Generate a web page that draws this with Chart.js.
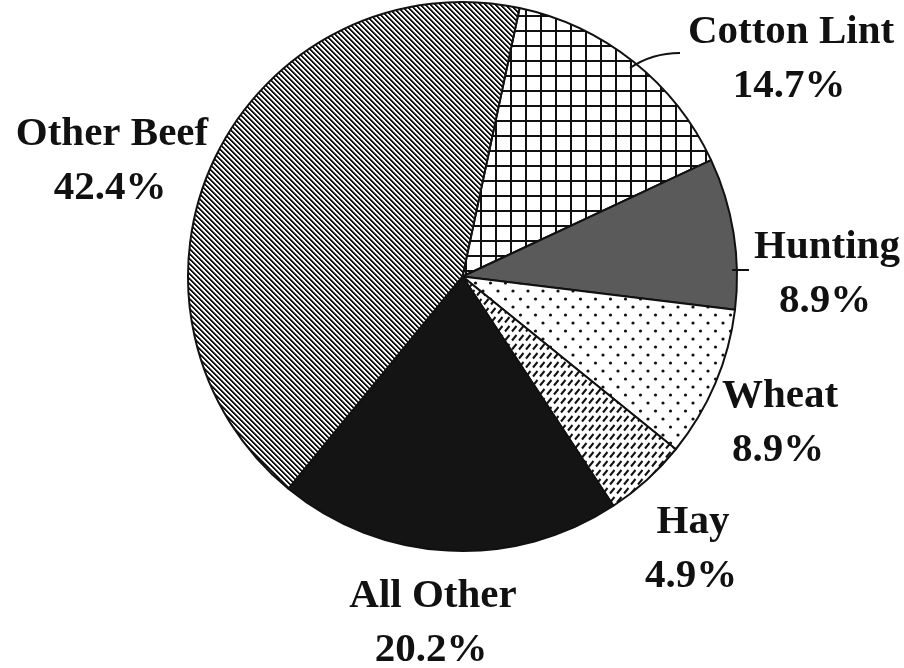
<!DOCTYPE html>
<html>
<head>
<meta charset="utf-8">
<script src="https://cdn.jsdelivr.net/npm/chart.js@4.4.1/dist/chart.umd.min.js"></script>
<style>
  html, body { margin: 0; padding: 0; background: #ffffff; }
  #wrap { width: 904px; height: 668px; }
</style>
</head>
<body>
<div id="wrap"><canvas id="pieChart" width="904" height="668"></canvas></div>
<script>
// Shares of total, clockwise from the top
const categories = ["Cotton Lint", "Hunting", "Wheat", "Hay", "All Other", "Other Beef"];
const shares = [14.7, 8.9, 8.9, 4.9, 20.2, 42.4];
const shareLabels = ["14.7%", "8.9%", "8.9%", "4.9%", "20.2%", "42.4%"];

// Where each two-line label sits (centre x, baseline of first line)
const labelSpots = [
  { x: 791, y: 43 },
  { x: 827, y: 258 },
  { x: 780, y: 407 },
  { x: 693, y: 533 },
  { x: 433, y: 607 },
  { x: 112, y: 145 }
];

function makeTile(w, h, draw) {
  const c = document.createElement("canvas");
  c.width = w;
  c.height = h;
  const g = c.getContext("2d");
  g.fillStyle = "#ffffff";
  g.fillRect(0, 0, w, h);
  g.strokeStyle = "#111111";
  g.fillStyle = "#111111";
  draw(g, w, h);
  return c;
}

function buildFills(ctx) {
  // square cross-hatch
  const grid = makeTile(15, 15, (g, w, h) => {
    g.lineWidth = 2;
    g.beginPath();
    g.moveTo(1, 0); g.lineTo(1, h);
    g.moveTo(0, 1); g.lineTo(w, 1);
    g.stroke();
  });
  // staggered dots
  const dots = makeTile(15, 16, (g) => {
    g.beginPath(); g.arc(3, 3, 1.6, 0, Math.PI * 2); g.fill();
    g.beginPath(); g.arc(10.5, 11, 1.6, 0, Math.PI * 2); g.fill();
  });
  // short forward slashes in rows
  const slashes = makeTile(7, 9, (g) => {
    g.lineWidth = 2;
    g.beginPath();
    g.moveTo(1, 7.5); g.lineTo(5.5, 2);
    g.stroke();
  });
  // dense back-diagonal lines, drawn pixel by pixel so they stay crisp
  const diag = makeTile(5, 5, (g, s) => {
    for (let i = 0; i < s; i++) {
      g.fillStyle = "#111111";
      g.fillRect(i, i, 1, 1);
      g.fillRect((i + 1) % s, i, 1, 1);
      g.fillStyle = "#8a8a8a";
      g.fillRect((i + 2) % s, i, 1, 1);
    }
  });
  return [
    ctx.createPattern(grid, "repeat"),
    "#5a5a5a",
    ctx.createPattern(dots, "repeat"),
    ctx.createPattern(slashes, "repeat"),
    "#141414",
    ctx.createPattern(diag, "repeat")
  ];
}

const labelPlugin = {
  id: "twoLineLabels",
  afterDraw(chart) {
    const ctx = chart.ctx;
    ctx.save();

    // leader lines
    ctx.strokeStyle = "#111111";
    ctx.lineWidth = 2;
    ctx.beginPath();
    ctx.moveTo(630, 68);
    ctx.quadraticCurveTo(652, 53, 680, 53);
    ctx.stroke();
    ctx.beginPath();
    ctx.moveTo(732, 270);
    ctx.lineTo(749, 270);
    ctx.stroke();

    ctx.fillStyle = "#111111";
    ctx.font = "bold 41px 'Liberation Serif', 'Times New Roman', serif";
    ctx.textAlign = "center";
    ctx.textBaseline = "alphabetic";
    categories.forEach((name, i) => {
      const spot = labelSpots[i];
      ctx.fillText(name, spot.x, spot.y);
      ctx.fillText(shareLabels[i], spot.x - 2, spot.y + 54);
    });
    ctx.restore();
  }
};

const canvas = document.getElementById("pieChart");
const ctx = canvas.getContext("2d");

new Chart(ctx, {
  type: "pie",
  data: {
    labels: categories,
    datasets: [{
      data: shares,
      backgroundColor: buildFills(ctx),
      borderColor: "#111111",
      borderWidth: 2
    }]
  },
  options: {
    responsive: false,
    devicePixelRatio: 1,
    animation: false,
    rotation: 12,
    layout: { padding: { left: 186, right: 165, top: 1, bottom: 116 } },
    plugins: {
      legend: { display: false },
      tooltip: { enabled: false }
    }
  },
  plugins: [labelPlugin]
});
</script>
</body>
</html>
